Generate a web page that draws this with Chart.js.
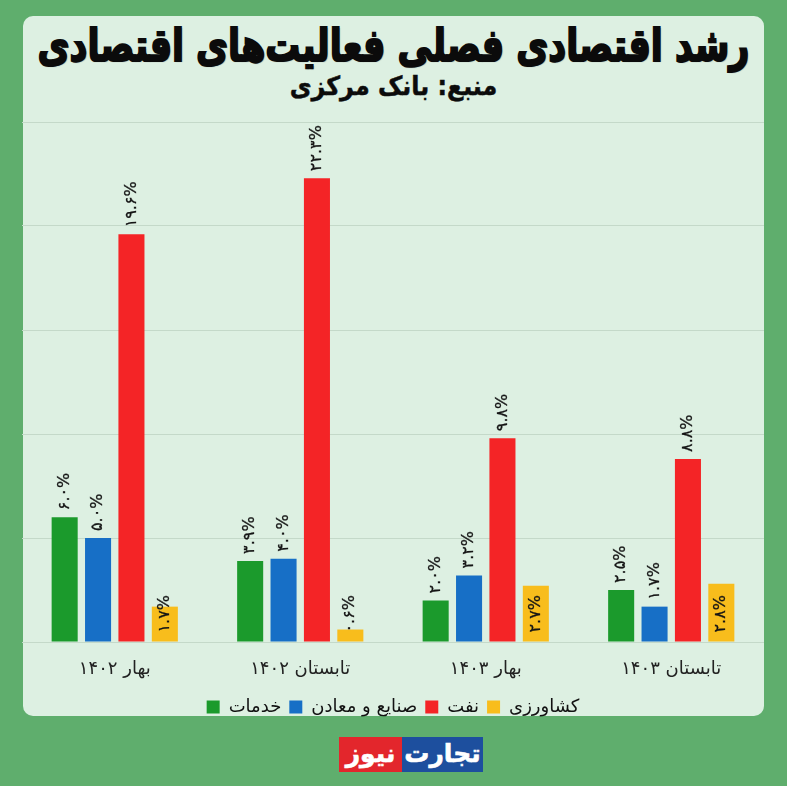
<!DOCTYPE html>
<html lang="fa">
<head>
<meta charset="utf-8">
<title>رشد اقتصادی فصلی فعالیت‌های اقتصادی</title>
<script src="https://cdn.jsdelivr.net/npm/chart.js@4.4.1/dist/chart.umd.min.js"></script>
<style>
  html, body { margin: 0; padding: 0; }
  body { width: 787px; height: 786px; background: #5fae6d; position: relative; overflow: hidden; font-family: "DejaVu Sans", sans-serif; }
  #panel { position: absolute; left: 23px; top: 16px; width: 741px; height: 700px; background: #ddf0e2; border-radius: 10px; }
  #c { position: absolute; left: 0; top: 0; }
  .head { position: absolute; left: 0; width: 787px; text-align: center; direction: rtl; color: #0b0b0b; font-family: "DejaVu Sans", sans-serif; font-weight: bold; white-space: nowrap; }
  #title { top: 20px; height: 50px; line-height: 50px; transform: scaleY(1.3); -webkit-text-stroke: 1.6px #0b0b0b; text-shadow: 1px 1px 1px rgba(0,0,0,0.35); }
  #subtitle { top: 71px; height: 30px; line-height: 30px; -webkit-text-stroke: 0.5px #111; transform: scaleY(1.1); }
  #logo { position: absolute; left: 339px; top: 737px; height: 35px; display: flex; direction: ltr; }
  #logo div { height: 35px; line-height: 33px; color: #fff; font-weight: bold; font-size: 25px; text-align: center; font-family: "DejaVu Sans", sans-serif; -webkit-text-stroke: 0.6px #fff; }
  #logo .red { width: 63px; background: #e3262c; }
  #logo .blue { width: 81px; background: #1d4f9e; }
</style>
</head>
<body>
<div id="panel"></div>
<div id="title" class="head"></div>
<div id="subtitle" class="head"></div>
<canvas id="c" width="787" height="786"></canvas>
<div id="logo"><div class="red">نیوز</div><div class="blue">تجارت</div></div>
<script>
// ---- data ----
const categories = ['بهار ۱۴۰۲', 'تابستان ۱۴۰۲', 'بهار ۱۴۰۳', 'تابستان ۱۴۰۳'];
const seriesNames = ['خدمات', 'صنایع و معادن', 'نفت', 'کشاورزی'];
const services = [6.0, 3.9, 2.0, 2.5];
const industryMining = [5.0, 4.0, 3.2, 1.7];
const oil = [19.6, 22.3, 9.8, 8.8];
const agriculture = [1.7, 0.6, 2.7, 2.8];
const yTicks = [0, 5, 10, 15, 20, 25];
const titleText = 'رشد اقتصادی فصلی فعالیت‌های اقتصادی';
const subtitleText = 'منبع: بانک مرکزی';

// ---- helpers ----
const faDigits = '۰۱۲۳۴۵۶۷۸۹';
function toFa(s) { return String(s).replace(/\d/g, d => faDigits[d]); }

// fit heading font sizes to the reference widths
const mctx = document.createElement('canvas').getContext('2d');
function fitSize(text, width) {
  mctx.font = 'bold 40px "DejaVu Sans"';
  return (40 * width / mctx.measureText(text).width).toFixed(1);
}
const titleEl = document.getElementById('title');
titleEl.textContent = titleText;
titleEl.style.fontSize = fitSize(titleText, 712) + 'px';
const subEl = document.getElementById('subtitle');
subEl.textContent = subtitleText;
subEl.style.fontSize = fitSize(subtitleText, 208) + 'px';

const colors = ['#1b9a2c', '#176fc6', '#f42426', '#f8bd1c'];
const series = [services, industryMining, oil, agriculture];

const barLabels = {
  id: 'barLabels',
  afterDatasetsDraw(chart) {
    const ctx = chart.ctx;
    chart.data.datasets.forEach((ds, i) => {
      const meta = chart.getDatasetMeta(i);
      meta.data.forEach((bar, j) => {
        const v = ds.data[j];
        const txt = toFa(v.toFixed(1)) + '%';
        const y = ds.labelAtBase ? bar.base - 9 : bar.y - 7;
        ctx.save();
        ctx.translate(bar.x, y);
        ctx.rotate(-Math.PI / 2);
        ctx.font = '16px "DejaVu Sans"';
        ctx.fillStyle = '#151515';
        ctx.strokeStyle = '#151515';
        ctx.lineWidth = 0.3;
        ctx.textAlign = 'left';
        ctx.textBaseline = 'middle';
        ctx.fillText(txt, 0, 0);
        ctx.strokeText(txt, 0, 0);
        ctx.restore();
      });
    });
  }
};

new Chart(document.getElementById('c'), {
  type: 'bar',
  data: {
    labels: categories,
    datasets: series.map((d, i) => ({
      label: seriesNames[i],
      data: d,
      backgroundColor: colors[i],
      borderWidth: 0,
      categoryPercentage: 0.72,
      barPercentage: 0.78,
      labelAtBase: i === 3
    }))
  },
  options: {
    responsive: false,
    devicePixelRatio: 1,
    animation: false,
    layout: { padding: { left: 22, right: 23, top: 122, bottom: 60 } },
    plugins: {
      title: { display: false },
      legend: {
        position: 'bottom',
        labels: {
          color: '#111', boxWidth: 13, boxHeight: 13, padding: 8,
          font: { family: 'DejaVu Sans', size: 18 }
        }
      },
      tooltip: { enabled: false }
    },
    scales: {
      x: {
        afterFit: s => { s.height = 48; },
        grid: { display: false, drawTicks: false },
        border: { display: false },
        ticks: { color: '#222', padding: 17, font: { family: 'DejaVu Sans', size: 18 } }
      },
      y: {
        min: yTicks[0], max: yTicks[yTicks.length - 1],
        afterBuildTicks: s => { s.ticks = yTicks.map(v => ({ value: v })); },
        afterFit: s => { s.width = 0; },
        ticks: { display: false },
        grid: { color: '#c4d9c9', lineWidth: 1, drawTicks: false },
        border: { display: false }
      }
    }
  },
  plugins: [barLabels]
});
</script>
</body>
</html>
